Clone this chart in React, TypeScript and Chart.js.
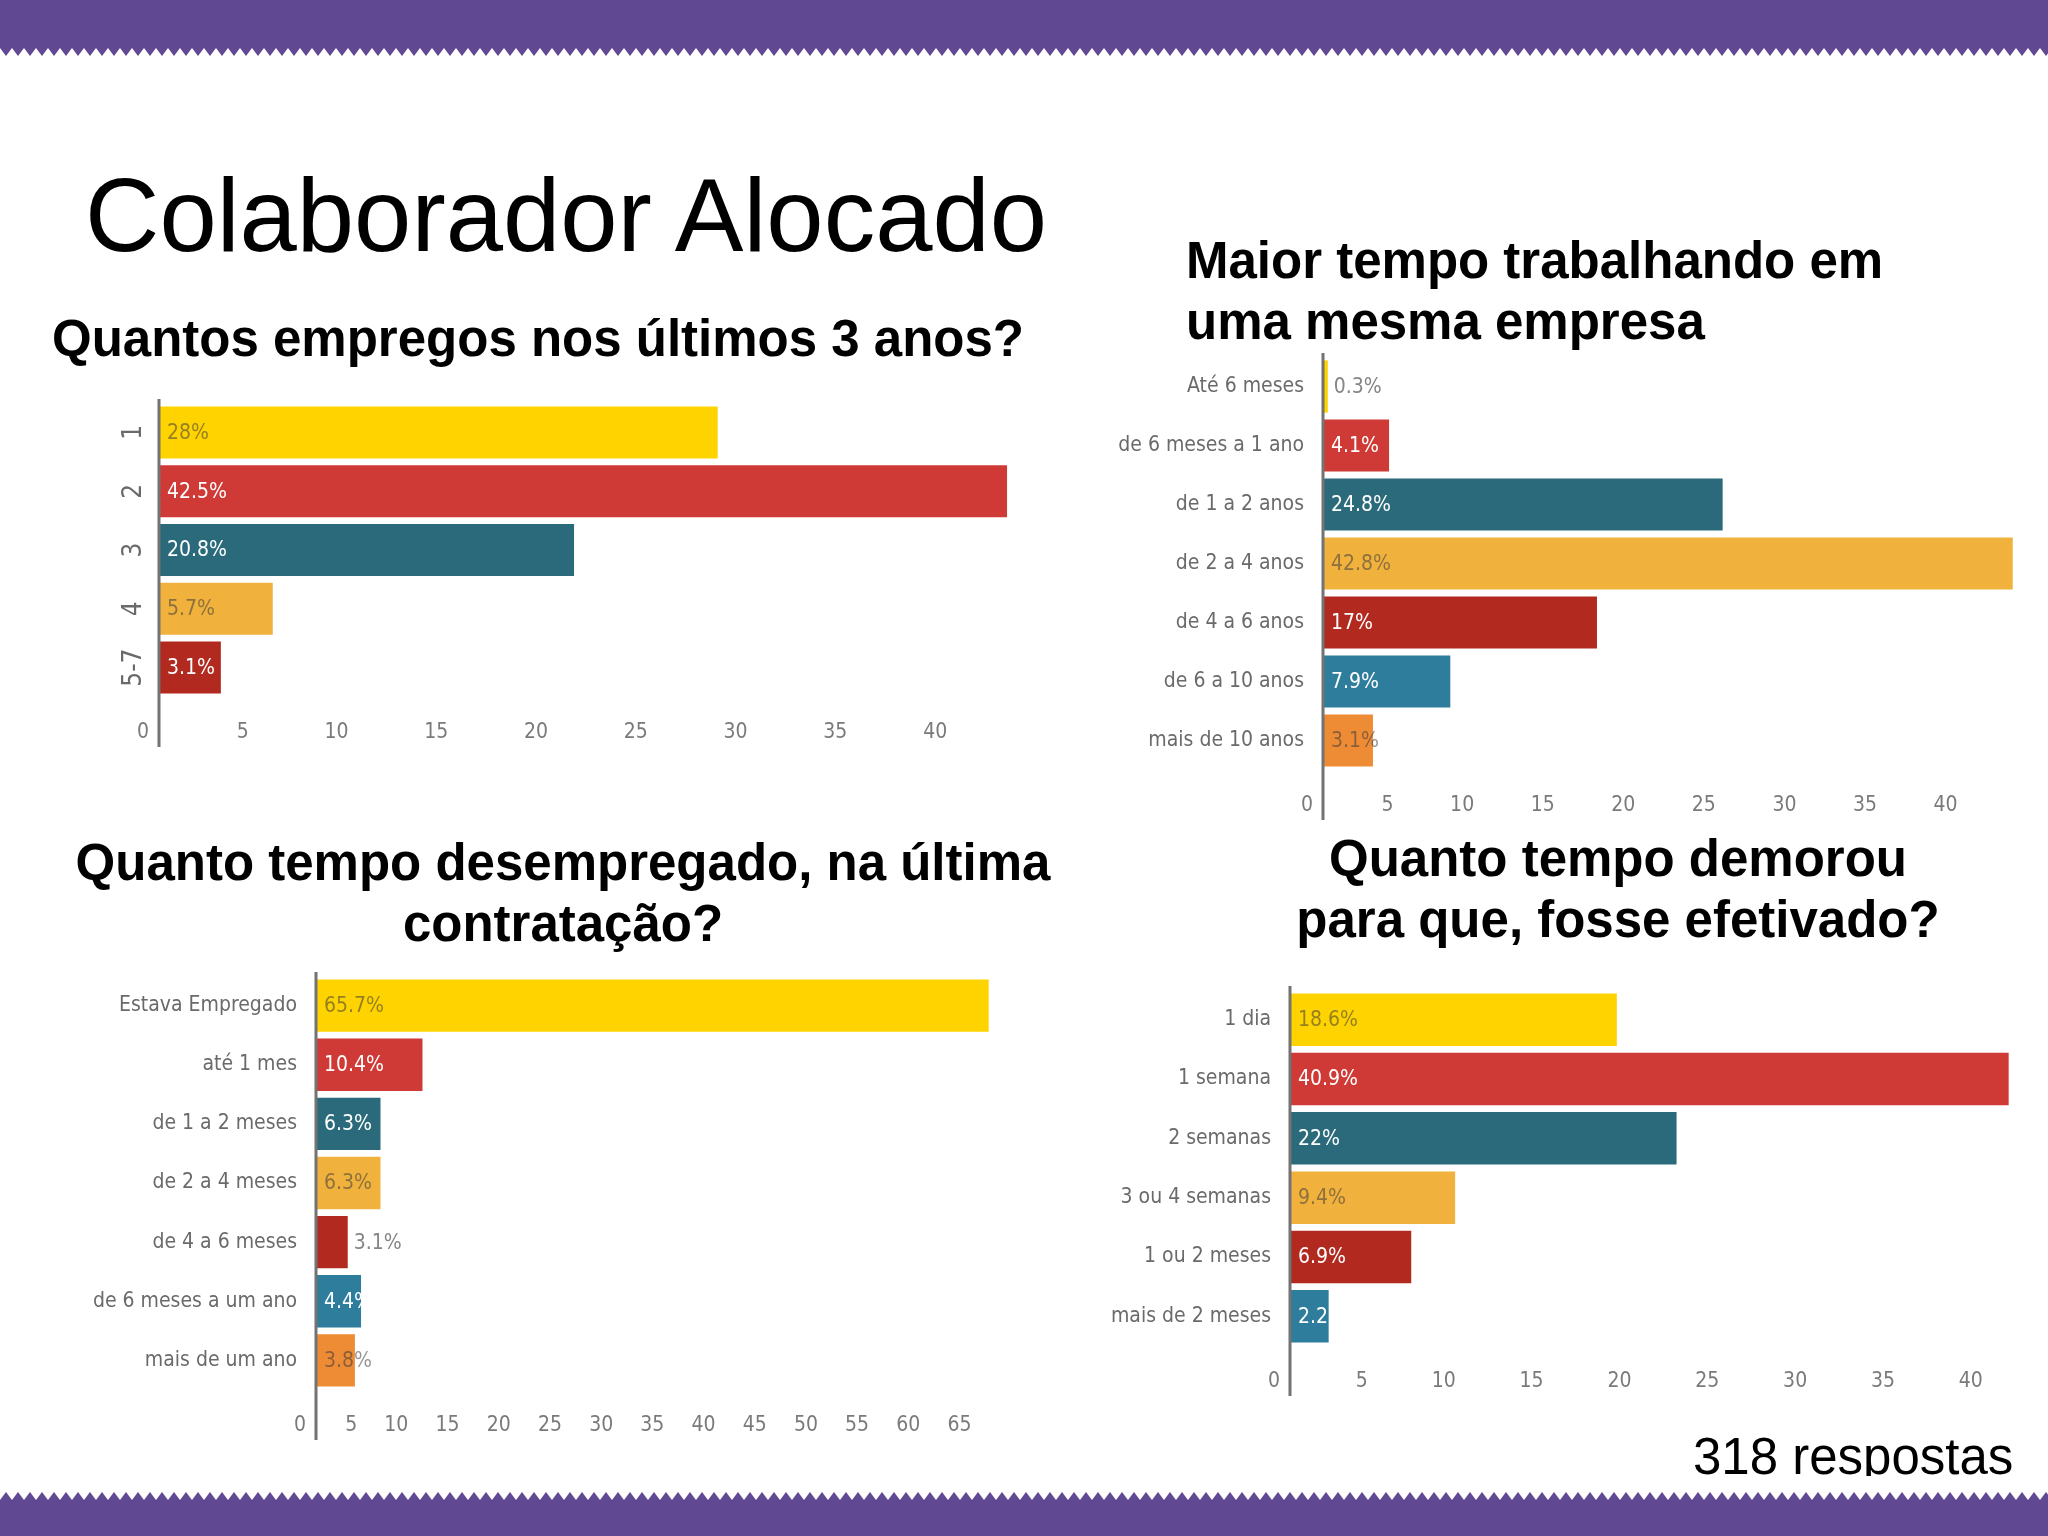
import React, { useEffect, useRef } from 'react';
import { Chart, registerables } from 'chart.js';

Chart.register(...registerables);

const PURPLE = '#614893';
const YELLOW = '#FFD300';
const RED = '#D03A36';
const TEAL = '#2A6A7B';
const LORANGE = '#F0B13D';
const DRED = '#B1291F';
const BLUE = '#2F7D9D';
const ORANGE = '#EE8B35';
const LIGHT_BARS = [YELLOW, LORANGE, ORANGE];

const NARROW = "'DejaVu Sans Condensed', 'DejaVu Sans', sans-serif";
const SANS = "'Liberation Sans', Arial, sans-serif";

// Chart 1: Quantos empregos nos últimos 3 anos?
const empregosLabels = ['1', '2', '3', '4', '5-7'];
const empregosValues = [28, 42.5, 20.8, 5.7, 3.1];
const empregosColors = [YELLOW, RED, TEAL, LORANGE, DRED];

// Chart 2: Maior tempo trabalhando em uma mesma empresa
const empresaLabels = ['Até 6 meses', 'de 6 meses a 1 ano', 'de 1 a 2 anos', 'de 2 a 4 anos', 'de 4 a 6 anos', 'de 6 a 10 anos', 'mais de 10 anos'];
const empresaValues = [0.3, 4.1, 24.8, 42.8, 17, 7.9, 3.1];
const empresaColors = [YELLOW, RED, TEAL, LORANGE, DRED, BLUE, ORANGE];

// Chart 3: Quanto tempo desempregado, na última contratação?
const desempregoLabels = ['Estava Empregado', 'até 1 mes', 'de 1 a 2 meses', 'de 2 a 4 meses', 'de 4 a 6 meses', 'de 6 meses a um ano', 'mais de um ano'];
const desempregoValues = [65.7, 10.4, 6.3, 6.3, 3.1, 4.4, 3.8];
const desempregoColors = [YELLOW, RED, TEAL, LORANGE, DRED, BLUE, ORANGE];

// Chart 4: Quanto tempo demorou para que, fosse efetivado?
const efetivadoLabels = ['1 dia', '1 semana', '2 semanas', '3 ou 4 semanas', '1 ou 2 meses', 'mais de 2 meses'];
const efetivadoValues = [18.6, 40.9, 22, 9.4, 6.9, 2.2];
const efetivadoColors = [YELLOW, RED, TEAL, LORANGE, DRED, BLUE];

const PAD_T = 6;
const PAD_R = 10;
const X_H = 60;

type BarProps = {
  labels: string[];
  values: number[];
  colors: string[];
  max: number;
  areaLeft: number;
  areaTop: number;
  areaW: number;
  areaH: number;
  yW: number;
  rotateY?: boolean;
};

const axisLinePlugin = {
  id: 'axisLine',
  afterDraw(chart: any) {
    const { ctx, chartArea } = chart;
    ctx.save();
    ctx.strokeStyle = '#737373';
    ctx.lineWidth = 3;
    ctx.beginPath();
    ctx.moveTo(chartArea.left, chartArea.top - 4);
    ctx.lineTo(chartArea.left, chartArea.bottom + 50);
    ctx.stroke();
    ctx.restore();
  },
};

const valueLabelPlugin = {
  id: 'valueLabels',
  afterDatasetsDraw(chart: any) {
    const { ctx } = chart;
    const ds = chart.data.datasets[0];
    const meta = chart.getDatasetMeta(0);
    ctx.save();
    ctx.font = `21px ${NARROW}`;
    ctx.textBaseline = 'middle';
    ctx.textAlign = 'left';
    meta.data.forEach((el: any, i: number) => {
      const v = ds.data[i];
      const text = `${v}%`;
      const x0 = el.base;
      const x1 = el.x;
      const color = ds.backgroundColor[i];
      if (x1 - x0 >= 35) {
        ctx.fillStyle = LIGHT_BARS.includes(color) ? 'rgba(60,60,60,0.55)' : '#ffffff';
        ctx.fillText(text, x0 + 8, el.y + 1);
      } else {
        ctx.fillStyle = '#858585';
        ctx.fillText(text, x1 + 6, el.y + 1);
      }
    });
    ctx.restore();
  },
};

function BarChart(p: BarProps) {
  const ref = useRef<HTMLCanvasElement | null>(null);
  const w = p.yW + p.areaW + PAD_R;
  const h = PAD_T + p.areaH + X_H;
  useEffect(() => {
    if (!ref.current) return;
    const zeroPad = (s: any) => {
      s.paddingLeft = 0;
      s.paddingRight = 0;
      s.paddingTop = 0;
      s.paddingBottom = 0;
    };
    const chart = new Chart(ref.current, {
      type: 'bar',
      data: {
        labels: p.labels,
        datasets: [
          {
            data: p.values,
            backgroundColor: p.colors,
            borderWidth: 0,
            categoryPercentage: 1,
            barPercentage: 0.885,
          },
        ],
      },
      options: {
        indexAxis: 'y',
        responsive: false,
        maintainAspectRatio: false,
        animation: false,
        layout: { padding: { top: PAD_T, right: PAD_R, left: 0, bottom: 0 } },
        plugins: { legend: { display: false }, tooltip: { enabled: false } },
        scales: {
          x: {
            min: 0,
            max: p.max,
            grid: { display: false, drawTicks: false },
            border: { display: false },
            ticks: {
              stepSize: 5,
              includeBounds: false,
              align: 'end',
              labelOffset: -10,
              padding: 23,
              color: '#7a7a7a',
              font: { family: NARROW, size: 21 },
            },
            afterFit: (s: any) => {
              s.height = X_H;
              zeroPad(s);
            },
          },
          y: {
            grid: { display: false, drawTicks: false },
            border: { display: false },
            ticks: {
              autoSkip: false,
              padding: p.rotateY ? 6 : 19,
              color: '#6a6a6a',
              font: { family: NARROW, size: p.rotateY ? 26 : 21 },
              ...(p.rotateY ? { minRotation: 90, maxRotation: 90, crossAlign: 'center' } : {}),
            },
            afterFit: (s: any) => {
              s.width = p.yW;
              zeroPad(s);
            },
          },
        },
      } as any,
      plugins: [valueLabelPlugin, axisLinePlugin],
    });
    return () => chart.destroy();
  }, []);
  return (
    <canvas
      ref={ref}
      width={w}
      height={h}
      style={{ position: 'absolute', left: p.areaLeft - p.yW, top: p.areaTop - PAD_T, width: w, height: h }}
    />
  );
}

function Zigzag({ top, down }: { top: number; down: boolean }) {
  const id = down ? 'zzdown' : 'zzup';
  return (
    <svg width={2048} height={8} style={{ position: 'absolute', left: 0, top }}>
      <defs>
        <pattern id={id} width={12} height={8} patternUnits="userSpaceOnUse">
          <polygon points={down ? '0,0 12,0 6,8' : '0,8 12,8 6,0'} fill={PURPLE} />
        </pattern>
      </defs>
      <rect width={2048} height={8} fill={`url(#${id})`} />
    </svg>
  );
}

const titleStyle: React.CSSProperties = {
  position: 'absolute',
  fontFamily: SANS,
  fontWeight: 'bold',
  fontSize: 51,
  lineHeight: '61px',
  color: '#000',
  whiteSpace: 'nowrap',
};

export default function App() {
  return (
    <div style={{ position: 'absolute', left: 0, top: 0, width: 2048, height: 1536, background: '#fff', overflow: 'hidden' }}>
      <div style={{ position: 'absolute', left: 0, top: 0, width: 2048, height: 48, background: PURPLE }} />
      <Zigzag top={48} down={true} />
      <Zigzag top={1492} down={false} />
      <div style={{ position: 'absolute', left: 0, top: 1500, width: 2048, height: 36, background: PURPLE }} />

      <div style={{ position: 'absolute', left: 85, top: 164, fontFamily: SANS, fontSize: 103, lineHeight: '103px', color: '#000', whiteSpace: 'nowrap' }}>
        Colaborador Alocado
      </div>

      <div style={{ ...titleStyle, left: 52, top: 308 }}>Quantos empregos nos últimos 3 anos?</div>
      <div style={{ ...titleStyle, left: 1186, top: 230 }}>
        Maior tempo trabalhando em
        <br />
        uma mesma empresa
      </div>
      <div style={{ ...titleStyle, left: 0, top: 832, width: 1126, textAlign: 'center' }}>
        Quanto tempo desempregado, na última
        <br />
        contratação?
      </div>
      <div style={{ ...titleStyle, left: 1118, top: 828, width: 1000, textAlign: 'center' }}>
        Quanto tempo demorou
        <br />
        para que, fosse efetivado?
      </div>

      <BarChart labels={empregosLabels} values={empregosValues} colors={empregosColors} max={43.5}
        areaLeft={159} areaTop={403} areaW={868} areaH={294} yW={120} rotateY />
      <BarChart labels={empresaLabels} values={empresaValues} colors={empresaColors} max={43.5}
        areaLeft={1323} areaTop={357} areaW={701} areaH={413} yW={260} />
      <BarChart labels={desempregoLabels} values={desempregoValues} colors={desempregoColors} max={67}
        areaLeft={316} areaTop={976} areaW={686} areaH={414} yW={300} />
      <BarChart labels={efetivadoLabels} values={efetivadoValues} colors={efetivadoColors} max={42}
        areaLeft={1290} areaTop={990} areaW={738} areaH={356} yW={280} />

      <div style={{ position: 'absolute', left: 1693, top: 1431, height: 45, overflow: 'hidden', fontFamily: SANS, fontSize: 51, lineHeight: '51px', color: '#000', whiteSpace: 'nowrap' }}>
        318 respostas
      </div>
    </div>
  );
}
